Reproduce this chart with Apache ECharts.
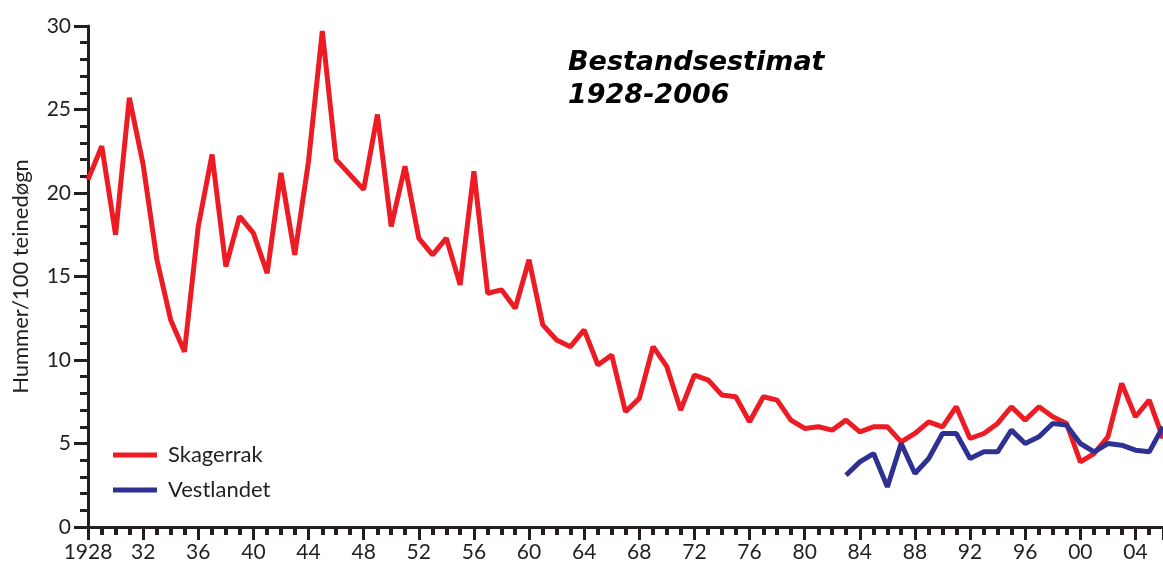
<!DOCTYPE html>
<html>
<head>
<meta charset="utf-8">
<script src="https://cdn.jsdelivr.net/npm/echarts@6/dist/echarts.min.js"></script>
<style>
  html, body { margin: 0; padding: 0; background: #fff; }
  #main { width: 1163px; height: 563px; }
</style>
</head>
<body>
<div id="main"></div>
<script>
// years 1928-2006
var years = [1928, 1929, 1930, 1931, 1932, 1933, 1934, 1935, 1936, 1937,
  1938, 1939, 1940, 1941, 1942, 1943, 1944, 1945, 1946, 1947,
  1948, 1949, 1950, 1951, 1952, 1953, 1954, 1955, 1956, 1957,
  1958, 1959, 1960, 1961, 1962, 1963, 1964, 1965, 1966, 1967,
  1968, 1969, 1970, 1971, 1972, 1973, 1974, 1975, 1976, 1977,
  1978, 1979, 1980, 1981, 1982, 1983, 1984, 1985, 1986, 1987,
  1988, 1989, 1990, 1991, 1992, 1993, 1994, 1995, 1996, 1997,
  1998, 1999, 2000, 2001, 2002, 2003, 2004, 2005, 2006];

var skagerrak = [20.8, 22.8, 17.5, 25.7, 21.7, 16.0, 12.4, 10.5, 18.0, 22.3,
  15.6, 18.6, 17.6, 15.2, 21.2, 16.3, 21.9, 29.7, 22.0, 21.1,
  20.2, 24.7, 18.0, 21.6, 17.3, 16.3, 17.3, 14.5, 21.3, 14.0,
  14.2, 13.1, 16.0, 12.1, 11.2, 10.8, 11.8, 9.7, 10.3, 6.9,
  7.7, 10.8, 9.6, 7.0, 9.1, 8.8, 7.9, 7.8, 6.3, 7.8,
  7.6, 6.4, 5.9, 6.0, 5.8, 6.4, 5.7, 6.0, 6.0, 5.1,
  5.6, 6.3, 6.0, 7.2, 5.3, 5.6, 6.2, 7.2, 6.4, 7.2,
  6.6, 6.2, 3.9, 4.4, 5.4, 8.6, 6.6, 7.6, 5.3];

var vestYears = [1983, 1984, 1985, 1986, 1987, 1988, 1989, 1990, 1991, 1992,
  1993, 1994, 1995, 1996, 1997, 1998, 1999, 2000, 2001, 2002,
  2003, 2004, 2005, 2006];

var vestlandet = [3.1, 3.9, 4.4, 2.4, 5.0, 3.2, 4.1, 5.6, 5.6, 4.1,
  4.5, 4.5, 5.8, 5.0, 5.4, 6.2, 6.1, 5.0, 4.5, 5.0,
  4.9, 4.6, 4.5, 6.0];

var seriesNames = ['Skagerrak', 'Vestlandet'];
var titleText = 'Bestandsestimat\n1928-2006';
var yTitle = 'Hummer/100 teinedøgn';

function pairs(xs, ys) {
  return xs.map(function (x, i) { return [x, ys[i]]; });
}

var ink = '#231f20';
var font = 'Lato';

var chart = echarts.init(document.getElementById('main'), null, { renderer: 'canvas' });

var option = {
  backgroundColor: '#fff',
  animation: false,
  title: {
    text: titleText,
    left: 563,
    top: 41,
    textStyle: {
      fontFamily: 'DejaVu Sans',
      fontStyle: 'italic',
      fontWeight: 'bold',
      fontSize: 27,
      lineHeight: 33,
      color: '#000'
    }
  },
  legend: {
    orient: 'vertical',
    left: 108,
    top: 439,
    itemWidth: 44,
    itemHeight: 5,
    itemGap: 13,
    icon: 'rect',
    data: seriesNames,
    textStyle: {
      fontFamily: font,
      fontSize: 22,
      color: ink,
      padding: [0, 0, 0, 6]
    }
  },
  grid: {
    left: 88,
    top: 26,
    width: 1079,
    height: 501,
    containLabel: false
  },
  xAxis: {
    type: 'value',
    min: 1928,
    max: 2006,
    interval: 4,
    axisLine: { lineStyle: { color: ink, width: 3 } },
    axisTick: { show: true, length: 13, lineStyle: { color: ink, width: 3 } },
    minorTick: { show: true, splitNumber: 4, length: 8, lineStyle: { color: ink, width: 4 } },
    splitLine: { show: false },
    axisLabel: {
      margin: 15,
      fontFamily: font,
      fontSize: 21,
      color: ink,
      showMaxLabel: false,
      formatter: function (v) {
        if (v === 1928) return '1928';
        var s = String(v % 100);
        return s.length < 2 ? '0' + s : s;
      }
    }
  },
  yAxis: {
    type: 'value',
    min: 0,
    max: 30,
    interval: 5,
    name: yTitle,
    nameLocation: 'middle',
    nameGap: 56,
    nameTextStyle: { fontFamily: font, fontSize: 22, color: ink },
    axisLine: { show: true, lineStyle: { color: ink, width: 3 } },
    axisTick: { show: true, length: 14, lineStyle: { color: ink, width: 3 } },
    minorTick: { show: true, splitNumber: 5, length: 8, lineStyle: { color: ink, width: 3 } },
    splitLine: { show: false },
    axisLabel: {
      margin: 17,
      fontFamily: font,
      fontSize: 21,
      color: ink
    }
  },
  series: [
    {
      name: seriesNames[0],
      type: 'line',
      data: pairs(years, skagerrak),
      symbol: 'none',
      color: '#ed1c24',
      lineStyle: { color: '#ed1c24', width: 5, join: 'bevel' },
      z: 3
    },
    {
      name: seriesNames[1],
      type: 'line',
      data: pairs(vestYears, vestlandet),
      symbol: 'none',
      color: '#2e3192',
      lineStyle: { color: '#2e3192', width: 5, join: 'bevel' },
      z: 4
    }
  ]
};

chart.setOption(option);
</script>
</body>
</html>
